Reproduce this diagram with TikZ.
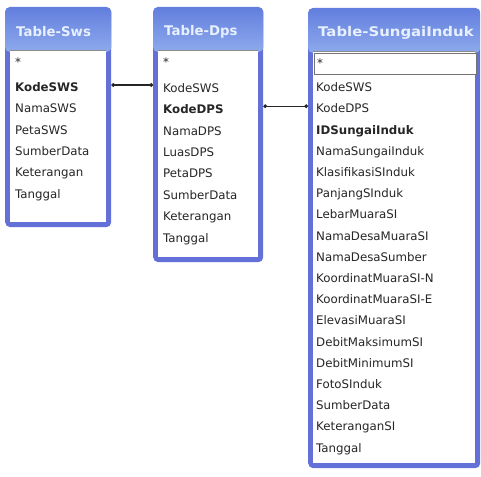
\documentclass[tikz,border=0pt]{standalone}
\usepackage{fontspec}
\setmainfont{DejaVu Sans}
\usetikzlibrary{arrows.meta}
\definecolor{frameblue}{RGB}{98,112,216}
\definecolor{titletop}{RGB}{98,126,222}
\definecolor{titlebot}{RGB}{142,170,236}
\definecolor{titletext}{RGB}{232,240,255}
\definecolor{fieldtext}{RGB}{38,38,38}
\begin{document}
\begin{tikzpicture}[x=1pt,y=-1pt,
  tableframe/.style={draw=none, fill=frameblue, rounded corners=5pt, anchor=north west, inner sep=0pt},
  titleband/.style={top color=titletop, bottom color=titlebot, rounded corners=5pt},
  titletxt/.style={anchor=west, inner sep=0pt, text=titletext, font=\fontsize{13.3}{14}\selectfont\bfseries},
  field/.style={anchor=west, inner sep=0pt, text height=9pt, text depth=2.5pt, text=fieldtext, font=\fontsize{11.8}{12}\selectfont},
  keyfield/.style={field, font=\fontsize{11.8}{12}\selectfont\bfseries},
  link/.style={line width=1.4pt, draw=black!85, {Circle[length=3.6pt]}-{Circle[length=3.6pt]}}
]
\useasboundingbox (0,0) rectangle (481,476);
\fill[white] (0,0) rectangle (481,476);

% ---------- Table-Sws ----------
\node[tableframe, minimum width=106pt, minimum height=220pt] (sws) at (5,7) {};
\shade[titleband] (sws.north west) rectangle ([yshift=-45pt]sws.north east);
\fill[white] ([xshift=5pt,yshift=-43pt]sws.north west) rectangle ([xshift=-5pt,yshift=5pt]sws.south east);
\draw[black!45, line width=0.8pt] ([xshift=5pt,yshift=-43pt]sws.north west) -- ([xshift=-5pt,yshift=-43pt]sws.north east);
\node[titletxt] (swstitle) at (16,32) {Table-Sws};
\node[field] (swsstar) at (15,63) {*};
\node[keyfield] (swskode) at (15,88) {KodeSWS};
\node[field] (swsnama) at (15,109.4) {NamaSWS};
\node[field] (swspeta) at (15,130.8) {PetaSWS};
\node[field] (swssumber) at (15,152.2) {SumberData};
\node[field] (swsket) at (15,173.6) {Keterangan};
\node[field] (swstgl) at (15,195) {Tanggal};

% ---------- Table-Dps ----------
\node[tableframe, minimum width=110pt, minimum height=255pt] (dps) at (153,7) {};
\shade[titleband] (dps.north west) rectangle ([yshift=-45pt]dps.north east);
\fill[white] ([xshift=5pt,yshift=-43pt]dps.north west) rectangle ([xshift=-5pt,yshift=5pt]dps.south east);
\draw[black!45, line width=0.8pt] ([xshift=5pt,yshift=-43pt]dps.north west) -- ([xshift=-5pt,yshift=-43pt]dps.north east);
\node[titletxt] (dpstitle) at (164,32) {Table-Dps};
\node[field] (dpsstar) at (163,63) {*};
\node[field] (dpskodesws) at (163,89) {KodeSWS};
\node[keyfield] (dpskode) at (163,110.4) {KodeDPS};
\node[field] (dpsnama) at (163,131.8) {NamaDPS};
\node[field] (dpsluas) at (163,153.2) {LuasDPS};
\node[field] (dpspeta) at (163,174.6) {PetaDPS};
\node[field] (dpssumber) at (163,196) {SumberData};
\node[field] (dpsket) at (163,217.4) {Keterangan};
\node[field] (dpstgl) at (163,238.8) {Tanggal};

% ---------- Table-SungaiInduk ----------
\node[tableframe, minimum width=172pt, minimum height=460pt] (si) at (308,8) {};
\shade[titleband] (si.north west) rectangle ([yshift=-45pt]si.north east);
\fill[white] ([xshift=5pt,yshift=-43pt]si.north west) rectangle ([xshift=-5pt,yshift=5pt]si.south east);
\draw[black!45, line width=0.8pt] ([xshift=5pt,yshift=-43pt]si.north west) -- ([xshift=-5pt,yshift=-43pt]si.north east);
\node[titletxt] (sititle) at (318,33) {\scalebox{1.12}[1]{Table-SungaiInduk}};
\draw[black!55, line width=1pt, fill=white] (314,54) rectangle (476,75);
\node[field] (sistar) at (317,64.5) {*};
\node[field] (sikodesws) at (316,88.5) {KodeSWS};
\node[field] (sikodedps) at (316,109.7) {KodeDPS};
\node[keyfield] (siid) at (316,130.9) {IDSungaiInduk};
\node[field] (sinama) at (316,152.1) {NamaSungaiInduk};
\node[field] (siklas) at (316,173.3) {KlasifikasiSInduk};
\node[field] (sipanjang) at (316,194.5) {PanjangSInduk};
\node[field] (silebar) at (316,215.7) {LebarMuaraSI};
\node[field] (sidesamuara) at (316,236.9) {NamaDesaMuaraSI};
\node[field] (sidesasumber) at (316,258.1) {NamaDesaSumber};
\node[field] (sikoorn) at (316,279.3) {KoordinatMuaraSI-N};
\node[field] (sikoore) at (316,300.5) {KoordinatMuaraSI-E};
\node[field] (sielev) at (316,321.7) {ElevasiMuaraSI};
\node[field] (sidebitmaks) at (316,342.9) {DebitMaksimumSI};
\node[field] (sidebitmin) at (316,364.1) {DebitMinimumSI};
\node[field] (sifoto) at (316,385.3) {FotoSInduk};
\node[field] (sisumber) at (316,406.5) {SumberData};
\node[field] (siket) at (316,427.7) {KeteranganSI};
\node[field] (sitgl) at (316,448.9) {Tanggal};

% ---------- relationships ----------
\draw[link] ([yshift=4pt]sws.east |- dpskodesws) -- ([yshift=4pt]dps.west |- dpskodesws);
\draw[link] ([yshift=3.5pt]dps.east |- sikodedps) -- ([yshift=3.5pt]si.west |- sikodedps);
\end{tikzpicture}
\end{document}
